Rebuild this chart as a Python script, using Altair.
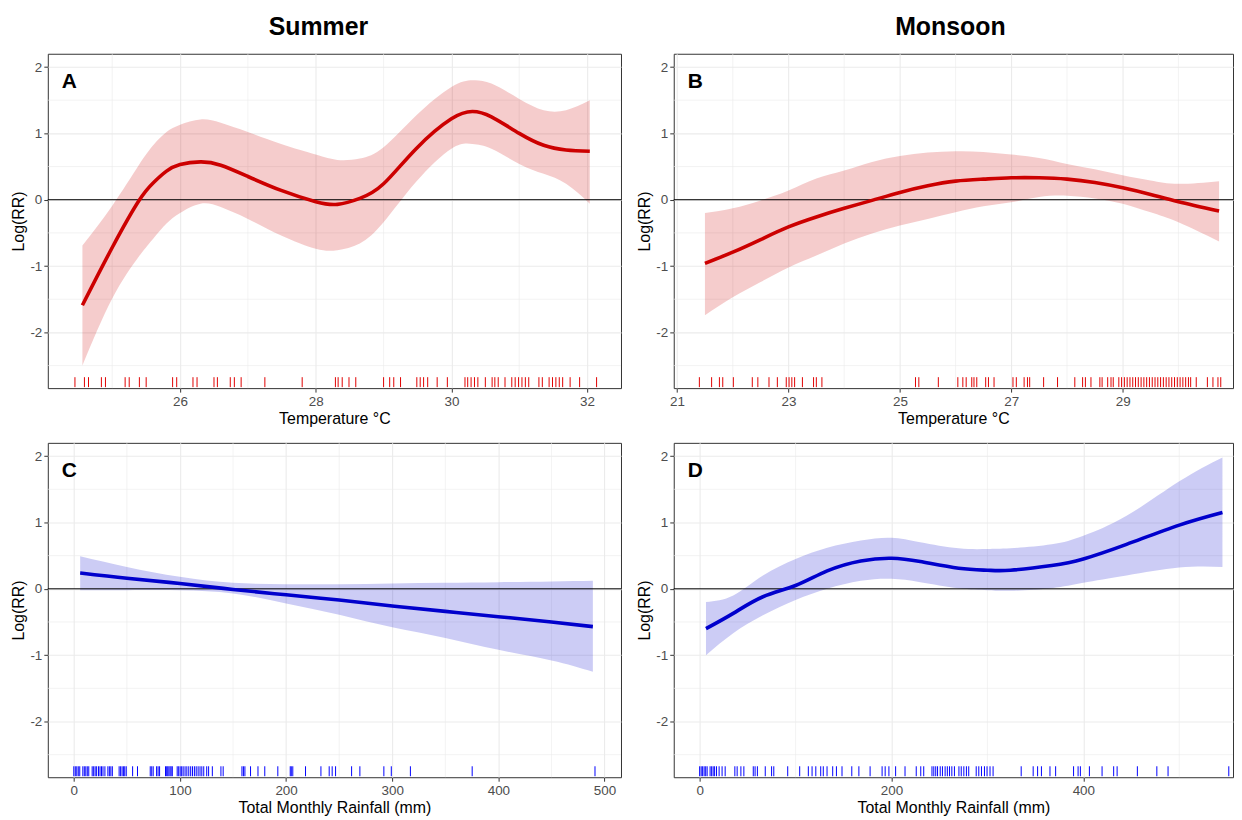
import altair as alt
import pandas as pd

# ---------------- data ----------------
# Panel A (Summer, temperature)
A_x = [24.56, 25.0, 25.39, 25.61, 25.8, 26.0, 26.3, 26.6, 27.0, 27.49, 28.0, 28.32, 28.65, 29.0, 29.48, 30.0, 30.31, 30.59, 31.0, 31.36, 31.69, 32.04]
A_fit = [-1.59, -0.72, -0.02, 0.26, 0.43, 0.53, 0.57, 0.52, 0.35, 0.14, -0.03, -0.07, 0.02, 0.24, 0.77, 1.22, 1.33, 1.25, 1.00, 0.82, 0.75, 0.73]
A_hi = [-0.69, -0.09, 0.52, 0.83, 1.02, 1.13, 1.21, 1.16, 1.02, 0.84, 0.68, 0.60, 0.62, 0.79, 1.27, 1.70, 1.80, 1.75, 1.52, 1.35, 1.35, 1.50]
A_lo = [-2.50, -1.49, -0.86, -0.58, -0.36, -0.20, -0.06, -0.11, -0.29, -0.54, -0.74, -0.76, -0.66, -0.34, 0.27, 0.77, 0.84, 0.77, 0.54, 0.39, 0.24, -0.06]
A_rug = [24.45, 24.59, 24.65, 24.84, 24.90, 25.19, 25.25, 25.40, 25.50, 25.89, 25.95, 26.19, 26.25, 26.50, 26.55,
         26.74, 26.80, 26.90, 27.25, 27.80, 28.29, 28.33, 28.39, 28.49, 28.59, 29.00, 29.09, 29.15, 29.25, 29.49,
         29.54, 29.59, 29.65, 29.79, 29.94, 30.20, 30.24, 30.29, 30.34, 30.39, 30.50, 30.60, 30.64, 30.69, 30.79,
         30.89, 30.94, 30.99, 31.04, 31.09, 31.14, 31.29, 31.34, 31.44, 31.49, 31.54, 31.59, 31.64, 31.75, 31.89, 32.14]

# Panel B (Monsoon, temperature)
B_x = [21.5, 22.0, 22.5, 23.0, 23.5, 24.0, 24.5, 25.0, 25.5, 26.0, 26.5, 27.0, 27.5, 28.0, 28.5, 29.0, 29.5, 30.0, 30.73]
B_fit = [-0.96, -0.79, -0.60, -0.41, -0.26, -0.13, -0.01, 0.11, 0.21, 0.28, 0.31, 0.33, 0.33, 0.31, 0.26, 0.18, 0.08, -0.03, -0.17]
B_hi = [-0.20, -0.13, -0.01, 0.14, 0.32, 0.44, 0.57, 0.66, 0.71, 0.73, 0.72, 0.68, 0.63, 0.54, 0.46, 0.37, 0.29, 0.24, 0.28]
B_lo = [-1.74, -1.47, -1.24, -1.02, -0.84, -0.66, -0.51, -0.39, -0.29, -0.19, -0.10, -0.04, 0.04, 0.06, 0.02, -0.06, -0.19, -0.34, -0.63]
B_rug = [21.40, 21.62, 21.76, 21.82, 22.01, 22.35, 22.45, 22.65, 22.80, 22.96, 23.01, 23.06, 23.11, 23.25, 23.45,
         23.50, 23.60, 25.28, 25.34, 25.69, 26.04, 26.13, 26.19, 26.29, 26.33, 26.38, 26.54, 26.59, 26.69, 27.03,
         27.09, 27.23, 27.29, 27.33, 27.58, 27.83, 28.14, 28.28, 28.33, 28.43, 28.59, 28.63, 28.73, 28.79, 28.83,
         28.93, 28.98, 29.03, 29.08, 29.13, 29.18, 29.23, 29.28, 29.33, 29.38, 29.43, 29.48, 29.53, 29.58, 29.63,
         29.68, 29.73, 29.78, 29.83, 29.88, 29.93, 29.98, 30.03, 30.08, 30.13, 30.18, 30.22, 30.32, 30.52, 30.62,
         30.71, 30.76]

# Panel C (Summer, rainfall)
C_x = [6, 50, 100, 150, 200, 250, 300, 350, 400, 450, 489]
C_fit = [0.24, 0.16, 0.08, -0.01, -0.09, -0.17, -0.26, -0.34, -0.42, -0.50, -0.57]
C_hi = [0.49, 0.33, 0.18, 0.09, 0.07, 0.07, 0.08, 0.09, 0.10, 0.11, 0.12]
C_lo = [-0.02, -0.02, -0.02, -0.07, -0.22, -0.39, -0.58, -0.74, -0.92, -1.08, -1.25]
C_rug = [0, 1.4, 2.8, 4.2, 5.6, 8.5, 9.9, 11.3, 12.7, 14.1, 17.3, 18.7, 20.1, 21.5, 23.3, 24.7, 26.1, 27.5, 29.3,
         32.1, 33.5, 34.9, 36.3, 42.7, 44.1, 45.5, 46.9, 48.0, 49.4, 55.4, 60.0, 72.0, 73.4, 74.8, 78.0, 79.4,
         80.8, 86.4, 87.5, 88.5, 89.6, 90.7, 91.7, 92.8, 97.4, 98.8, 100.2, 101.6, 103.0, 104.8, 106.5, 108.3,
         110.1, 111.8, 113.6, 115.3, 117.1, 118.9, 120.6, 122.4, 125.2, 127.0, 130.5, 138.6, 140.7, 158.4, 159.8,
         161.2, 166.5, 173.5, 179.9, 192.2, 203.9, 204.9, 206.3, 218.3, 232.8, 240.6, 243.4, 246.6, 261.7, 269.5,
         292.1, 299.1, 317.1, 375.3, 491.0]

# Panel D (Monsoon, rainfall)
D_x = [6.6, 35, 66, 100, 133, 168, 200, 230, 270, 300, 324, 367, 400, 445, 500, 545]
D_fit = [-0.60, -0.37, -0.12, 0.05, 0.27, 0.42, 0.46, 0.41, 0.31, 0.28, 0.28, 0.35, 0.45, 0.67, 0.96, 1.15]
D_hi = [-0.20, -0.10, 0.20, 0.45, 0.62, 0.73, 0.77, 0.70, 0.61, 0.60, 0.61, 0.67, 0.80, 1.10, 1.62, 1.98]
D_lo = [-1.00, -0.67, -0.40, -0.17, 0.00, 0.12, 0.15, 0.10, 0.01, -0.02, -0.03, 0.01, 0.09, 0.20, 0.32, 0.33]
D_rug = [0, 1.6, 3.1, 4.7, 6.3, 7.8, 10.9, 12.5, 14.1, 15.6, 17.6, 20.3, 23.4, 26.6, 36.7, 39.1, 43.0, 46.1,
         55.9, 57.8, 60.2, 68.4, 75.0, 77.3, 91.8, 104.3, 113.3, 117.2, 121.1, 126.2, 128.9, 132.8, 138.7, 142.6,
         148.4, 158.6, 166.0, 177.7, 190.2, 193.4, 197.3, 204.3, 214.1, 225.8, 230.5, 233.6, 242.2, 244.1, 246.1,
         248.0, 250.8, 253.1, 255.9, 258.2, 260.5, 262.9, 265.6, 270.3, 272.7, 275.4, 278.1, 280.5, 288.3, 291.0,
         293.8, 296.9, 299.6, 302.7, 305.9, 335.2, 347.7, 352.3, 356.3, 365.2, 371.1, 389.8, 394.5, 396.9, 406.3,
         419.5, 431.6, 435.2, 456.3, 476.6, 488.3, 551.6]

Y_MAJOR = [-2, -1, 0, 1, 2]
Y_MINOR = [-2.5, -1.5, -0.5, 0.5, 1.5]
Y_DOMAIN = [-2.84, 2.2]

RED = "#CC0000"
BLUE = "#0000CC"
FONT = "Liberation Sans"
H = 336


def panel(letter, xs, fit, lo, hi, rug, domain, xmajor, xminor, xtitle, line_color, rug_color,
          width, title=None, title_dx=0):
    df = pd.DataFrame({"x": xs, "fit": fit, "lo": lo, "hi": hi})
    xscale = alt.Scale(domain=domain, nice=False, zero=False)
    yscale = alt.Scale(domain=Y_DOMAIN, nice=False, zero=False)
    xaxis = alt.Axis(values=xmajor, title=xtitle, labelExpr="'' + datum.value")
    yaxis = alt.Axis(values=Y_MAJOR, title="Log(RR)", labelExpr="'' + datum.value")

    vgrid = alt.Chart(pd.DataFrame({"x": xminor})).mark_rule(
        color="#EBEBEB", strokeWidth=0.6).encode(x=alt.X("x:Q", scale=xscale, axis=xaxis))
    hgrid = alt.Chart(pd.DataFrame({"y": Y_MINOR})).mark_rule(
        color="#EBEBEB", strokeWidth=0.6).encode(y=alt.Y("y:Q", scale=yscale, axis=yaxis))
    band = alt.Chart(df).mark_area(color=line_color, opacity=0.2, interpolate="natural").encode(
        x=alt.X("x:Q", scale=xscale, axis=xaxis),
        y=alt.Y("lo:Q", scale=yscale, axis=yaxis),
        y2="hi:Q",
    )
    zero = alt.Chart(pd.DataFrame({"y": [0]})).mark_rule(color="black", strokeWidth=1).encode(
        y=alt.Y("y:Q", scale=yscale, axis=yaxis))
    line = alt.Chart(df).mark_line(color=line_color, strokeWidth=3.6, interpolate="natural").encode(
        x=alt.X("x:Q", scale=xscale, axis=xaxis),
        y=alt.Y("fit:Q", scale=yscale, axis=yaxis),
    )
    rugc = alt.Chart(pd.DataFrame({"x": rug})).mark_rule(color=rug_color, strokeWidth=1).encode(
        x=alt.X("x:Q", scale=xscale, axis=xaxis),
        y=alt.value(H - 11),
        y2=alt.value(H - 1),
    )
    lab = alt.Chart(pd.DataFrame({"t": [letter]})).mark_text(
        font=FONT, fontWeight="bold", fontSize=21, align="left", baseline="alphabetic", color="black"
    ).encode(text="t:N", x=alt.value(14), y=alt.value(34))

    props = dict(width=width, height=H)
    if title:
        props["title"] = alt.TitleParams(title, fontSize=25, font=FONT, fontWeight="bold",
                                         anchor="middle", offset=14, color="black", dx=title_dx)
    return alt.layer(vgrid, hgrid, band, zero, line, rugc, lab).properties(**props)


pA = panel("A", A_x, A_fit, A_lo, A_hi, A_rug, [24.05, 32.5], [26, 28, 30, 32], [25, 27, 29, 31],
           "Temperature \u00b0C", RED, "#E00000", 576, "Summer", -16)
pB = panel("B", B_x, B_fit, B_lo, B_hi, B_rug, [20.94, 30.98], [21, 23, 25, 27, 29], [22, 24, 26, 28, 30],
           "Temperature \u00b0C", RED, "#E00000", 562, "Monsoon", -3)
pC = panel("C", C_x, C_fit, C_lo, C_hi, C_rug, [-24.5, 515.5], [0, 100, 200, 300, 400, 500],
           [50, 150, 250, 350, 450], "Total Monthly Rainfall (mm)", BLUE, "#0000FF", 576)
pD = panel("D", D_x, D_fit, D_lo, D_hi, D_rug, [-27, 556], [0, 200, 400], [100, 300, 500],
           "Total Monthly Rainfall (mm)", BLUE, "#0000FF", 562)

chart = alt.concat(
    pA, pB, pC, pD, columns=2, spacing={"row": 55, "column": 53}, bounds="flush"
).properties(
    background="white", padding={"left": 2, "top": 4, "right": 0, "bottom": 2}
).configure_view(
    stroke="#333333", strokeWidth=1
).configure_axis(
    labelFont=FONT, labelFontSize=13.5, labelColor="#4D4D4D", labelPadding=2,
    tickColor="#333333", tickSize=4, domain=False,
    grid=True, gridColor="#EBEBEB", gridWidth=1.1,
    titleFont=FONT, titleFontSize=16, titleFontWeight="normal", titleColor="black", titlePadding=3,
)

chart.save("out.html", embed_options={"renderer": "svg", "actions": False})
